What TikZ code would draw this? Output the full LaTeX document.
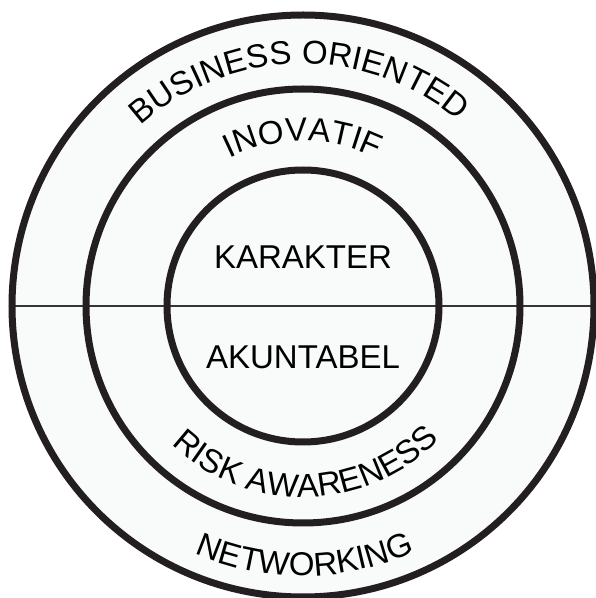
\documentclass[tikz,border=0pt]{standalone}
\usepackage{fontspec}
\setmainfont{Liberation Sans}
\usetikzlibrary{decorations.text}
\newcommand{\ringfont}{\fontsize{33}{36}\selectfont}
\definecolor{discfill}{RGB}{249,250,250}
\definecolor{ringline}{RGB}{35,31,32}
\tikzset{
    ring/.style = {draw=ringline, line width=7pt},
    divider/.style = {draw=ringline!90, line width=2pt},
    core/.style = {font=\ringfont, inner sep=0pt},
    arctext/.style = {decorate, decoration={text along path,
        text align=center, text={|\ringfont|#1}}}
}

\begin{document}
\begin{tikzpicture}[x=1pt,y=1pt]
    \useasboundingbox (0,0) rectangle (596,598);
    \coordinate (c) at (303,292);
    \coordinate (w) at (12,292);
    \coordinate (e) at (594,292);
    % disc and the three rings
    \fill[discfill] (c) circle (291);
    \draw[divider] (w) -- (e);
    \draw[ring] (c) circle (291);
    \draw[ring] (c) circle (217);
    \draw[ring] (c) circle (136);
    % middle
    \node[core] (karakter) at (303,341) {KARAKTER};
    \node[core] (akuntabel) at (303,240.5) {AKUNTABEL};
    % texts on the rings
    \path[arctext=BUSINESS ORIENTED] (c) ++(151:242) arc[start angle=151, end angle=31, radius=242];
    \path[arctext=INOVATIF] (c) ++(138:165) arc[start angle=138, end angle=42, radius=165];
    \path[arctext=RISK AWARENESS] (c) ++(220:191) arc[start angle=220, end angle=322, radius=191];
    \path[arctext=NETWORKING] (c) ++(230:270) arc[start angle=230, end angle=311, radius=270];
\end{tikzpicture}
\end{document}
